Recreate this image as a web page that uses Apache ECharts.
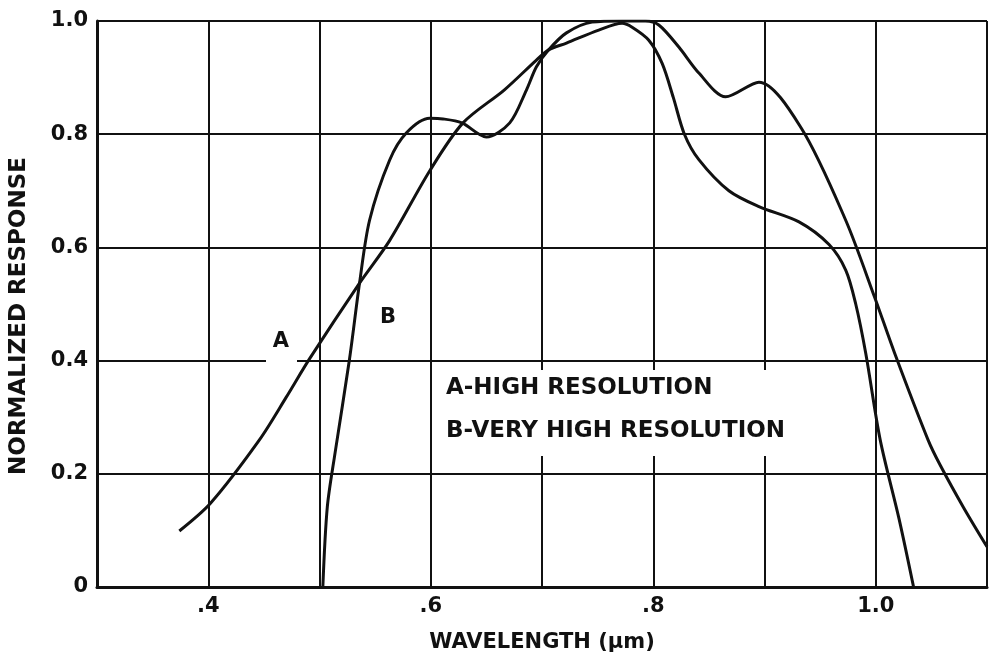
<!DOCTYPE html>
<html><head><meta charset="utf-8">
<script src="https://cdn.jsdelivr.net/npm/echarts@6/dist/echarts.min.js"></script>
<style>html,body{margin:0;padding:0;background:#fff}#chart{width:990px;height:665px}</style>
</head><body><div id="chart"></div>
<script>
// ---- data ----
const xTickValues = [0.4, 0.6, 0.8, 1.0];
const xTickLabels = ['.4', '.6', '.8', '1.0'];
const yTickValues = [0, 0.2, 0.4, 0.6, 0.8, 1.0];
const yTickLabels = ['0', '0.2', '0.4', '0.6', '0.8', '1.0'];

// Curve A (high resolution)
const waveA = [0.374, 0.402, 0.446, 0.470, 0.491, 0.536, 0.563, 0.599, 0.629, 0.666, 0.695, 0.706, 0.722, 0.751, 0.772, 0.781, 0.796, 0.808, 0.818, 0.828, 0.841, 0.868, 0.895, 0.931, 0.958, 0.973, 0.982, 0.991, 1.004, 1.021, 1.034];
const respA = [0.099, 0.148, 0.260, 0.335, 0.403, 0.537, 0.612, 0.735, 0.820, 0.878, 0.931, 0.949, 0.961, 0.984, 0.996, 0.989, 0.966, 0.925, 0.865, 0.800, 0.755, 0.700, 0.672, 0.645, 0.605, 0.560, 0.500, 0.413, 0.260, 0.120, 0.000];

// Curve B (very high resolution)
const waveB = [0.503, 0.507, 0.514, 0.527, 0.536, 0.545, 0.563, 0.578, 0.599, 0.611, 0.628, 0.650, 0.671, 0.686, 0.695, 0.706, 0.722, 0.745, 0.772, 0.793, 0.805, 0.823, 0.841, 0.865, 0.895, 0.933, 0.973, 0.999, 1.017, 1.047, 1.058, 1.079, 1.100];
const respB = [0.000, 0.141, 0.237, 0.403, 0.537, 0.648, 0.754, 0.802, 0.828, 0.827, 0.820, 0.795, 0.820, 0.878, 0.919, 0.949, 0.979, 0.998, 1.000, 1.000, 0.993, 0.954, 0.908, 0.866, 0.892, 0.811, 0.648, 0.512, 0.413, 0.260, 0.215, 0.140, 0.071];

const curveLabels = ['A', 'B'];
const legendLines = ['A-HIGH RESOLUTION', 'B-VERY HIGH RESOLUTION'];
const xAxisTitle = 'WAVELENGTH (\u03bcm)';
const yAxisTitle = 'NORMALIZED RESPONSE';

// ---- chart ----
const FONT = '"DejaVu Sans", "Liberation Sans", sans-serif';
const INK = '#111';
function pick(values, labels, v) {
  for (let i = 0; i < values.length; i++) if (Math.abs(values[i] - v) < 1e-6) return labels[i];
  return '';
}
const chart = echarts.init(document.getElementById('chart'), null, {renderer: 'canvas'});
const lineStyle = {color: INK, width: 3};
chart.setOption({
  backgroundColor: '#ffffff',
  animation: false,
  grid: {left: 97, right: 2, top: 21, bottom: 78, containLabel: false},
  xAxis: {
    type: 'value', min: 0.3, max: 1.1, interval: 0.1,
    name: xAxisTitle, nameLocation: 'middle', nameGap: 45,
    nameTextStyle: {fontFamily: FONT, fontWeight: 'bold', fontSize: 21, color: INK},
    axisLine: {show: true, onZero: false, lineStyle: {color: INK, width: 3}},
    axisTick: {show: false},
    splitLine: {show: true, lineStyle: {color: INK, width: 2}},
    axisLabel: {
      margin: 9, fontFamily: FONT, fontWeight: 'bold', fontSize: 21, color: INK,
      showMinLabel: true, showMaxLabel: true,
      formatter: v => pick(xTickValues, xTickLabels, v)
    }
  },
  yAxis: {
    type: 'value', min: 0, max: 1.0, interval: 0.2,
    name: yAxisTitle, nameLocation: 'middle', nameGap: 66, nameRotate: 90,
    nameTextStyle: {fontFamily: FONT, fontWeight: 'bold', fontSize: 23, color: INK, padding: [0, 24, 0, 0]},
    axisLine: {show: true, lineStyle: {color: INK, width: 3}},
    axisTick: {show: false},
    splitLine: {show: true, lineStyle: {color: INK, width: 2}},
    axisLabel: {
      margin: 9, fontFamily: FONT, fontWeight: 'bold', fontSize: 21, color: INK,
      formatter: v => pick(yTickValues, yTickLabels, v)
    }
  },
  series: [
    {name: curveLabels[0], type: 'line', data: waveA.map((x, i) => [x, respA[i]]),
     showSymbol: false, smooth: 0.3, lineStyle: lineStyle, z: 5},
    {name: curveLabels[1], type: 'line', data: waveB.map((x, i) => [x, respB[i]]),
     showSymbol: false, smooth: 0.3, lineStyle: lineStyle, z: 5}
  ],
  graphic: [
    {type: 'rect', z: 50, shape: {x: 266, y: 330, width: 31, height: 34}, style: {fill: '#fff'}},
    {type: 'rect', z: 50, shape: {x: 440, y: 370, width: 388, height: 86}, style: {fill: '#fff'}},
    {type: 'text', z: 60, x: 281, y: 342, style: {text: curveLabels[0], font: 'bold 21px ' + FONT, fill: INK, textAlign: 'center', textVerticalAlign: 'middle', align: 'center', verticalAlign: 'middle'}},
    {type: 'text', z: 60, x: 388, y: 318, style: {text: curveLabels[1], font: 'bold 21px ' + FONT, fill: INK, textAlign: 'center', textVerticalAlign: 'middle', align: 'center', verticalAlign: 'middle'}},
    {type: 'text', z: 60, x: 446, y: 388, style: {text: legendLines[0], font: 'bold 23px ' + FONT, fill: INK, textAlign: 'left', textVerticalAlign: 'middle', align: 'left', verticalAlign: 'middle'}},
    {type: 'text', z: 60, x: 446, y: 431, style: {text: legendLines[1], font: 'bold 23px ' + FONT, fill: INK, textAlign: 'left', textVerticalAlign: 'middle', align: 'left', verticalAlign: 'middle'}}
  ]
});
</script>
</body></html>
